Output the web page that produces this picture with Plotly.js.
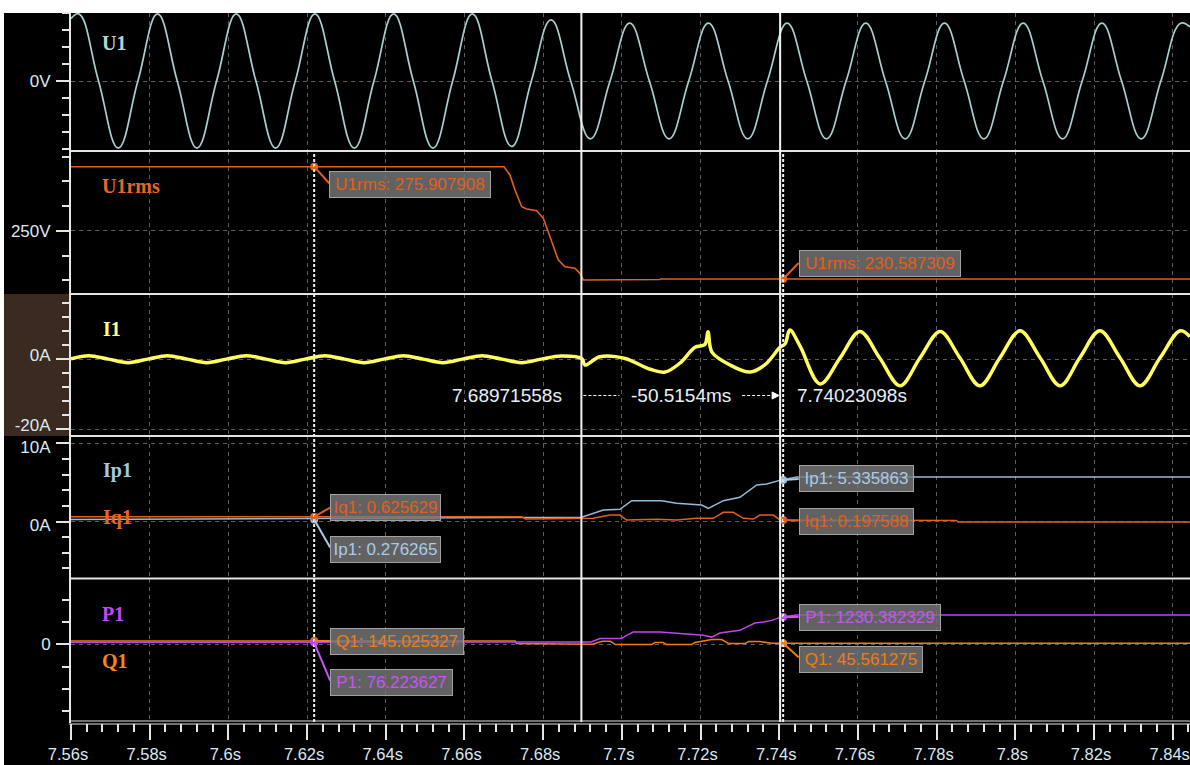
<!DOCTYPE html>
<html><head><meta charset="utf-8">
<script src="https://cdn.plot.ly/plotly-3.0.1.min.js"></script>
<style>html,body{margin:0;padding:0;background:#000;overflow:hidden}#chart{width:1190px;height:765px}</style>
</head><body><div id="chart"></div>
<script>
// ---------------- data ----------------
const u1Time = [7.560,7.562,7.567,7.572,7.577,7.582,7.587,7.592,7.597,7.602,7.607,7.612,7.617,7.622,7.627,7.632,7.637,7.642,7.647,7.652,7.657,7.662,7.667,7.672,7.677,7.682,7.687,7.692,7.697,7.702,7.707,7.712,7.717,7.722,7.727,7.732,7.737,7.742,7.747,7.752,7.757,7.762,7.767,7.772,7.777,7.782,7.787,7.792,7.797,7.802,7.807,7.812,7.817,7.822,7.827,7.832,7.837,7.842,7.8444];
const u1Volt = [367,395,0,-395,0,395,0,-395,0,395,0,-395,0,395,0,-395,0,395,0,-395,0,395,0,-385,0,360,0,-340,0,340,0,-340,0,340,0,-340,0,340,0,-340,0,340,0,-340,0,340,0,-340,0,340,0,-340,0,340,0,-340,0,340,318];

const u1rmsTime = [7.560,7.67005,7.67157,7.67284,7.67455,7.67582,7.67836,7.68004,7.68174,7.68385,7.68555,7.68809,7.68936,7.69020,7.7097,7.7098,7.8444];
const u1rmsVolt = [275.91,275.91,272.56,266.5,259.77,258.84,258.15,255.09,247.66,238.26,235.55,234.91,232.89,230.2,230.4,230.59,230.59];

const i1Time = [7.560,7.5645,7.5695,7.5745,7.5795,7.5845,7.5895,7.5945,7.5995,7.6045,7.6095,7.6145,7.6195,7.6245,7.6295,7.6345,7.6395,7.6445,7.6495,7.6545,7.6595,7.6645,7.6695,7.6745,7.6795,7.6845,7.6899,7.6906,7.6944,7.7008,7.7072,7.7110,7.7148,7.7186,7.7211,7.7219,7.7229,7.7274,7.7326,7.7364,7.7402,7.7415,7.7427,7.7453,7.7504,7.7555,7.7605,7.7655,7.7707,7.7758,7.7809,7.7859,7.7910,7.7961,7.8012,7.8063,7.8114,7.8164,7.8215,7.8266,7.8317,7.8368,7.8419,7.8444];
const i1Amp = [0.2,1.1,0.1,-0.9,0.1,1.1,0.1,-0.9,0.1,1.1,0.1,-0.9,0.1,1.1,0.1,-0.9,0.1,1.1,0.1,-0.9,0.1,1.1,0.1,-0.9,0.1,1.0,0.2,-1.6,0.8,0.3,-2.8,-3.6,-1.0,3.5,4.3,7.9,2.1,-1.5,-3.6,-1.5,3.5,4.5,8.4,3.8,-7.0,0.5,8.0,0.5,-7.5,0.5,8.0,0.5,-7.5,0.5,8.2,0.5,-7.5,0.5,8.2,0.5,-7.5,0.5,8.2,6.5];

const ip1Time = [7.560,7.6898,7.6953,7.6995,7.7025,7.7101,7.7139,7.7203,7.7220,7.7258,7.7300,7.7343,7.7368,7.7406,7.7445,7.8444];
const ip1Amp = [0.276,0.54,1.47,1.56,2.67,2.67,2.33,2.12,1.69,2.67,3.10,4.68,4.81,5.336,5.72,5.72];

const iq1Time = [7.560,7.6745,7.6755,7.6898,7.6927,7.6970,7.6995,7.7012,7.7088,7.7139,7.7190,7.7232,7.7258,7.7283,7.7309,7.7334,7.7351,7.7385,7.7402,7.7850,7.7855,7.8444];
const iq1Amp = [0.626,0.626,0.33,0.33,0.41,0.83,0.83,0.19,0.28,0.19,0.41,0.41,1.18,1.18,0.41,0.32,0.83,0.83,0.2,0.13,-0.06,-0.06];

const p1Time = [7.560,7.6897,7.6922,7.6944,7.6999,7.7012,7.7029,7.7097,7.7122,7.7207,7.7228,7.7249,7.7300,7.7313,7.7338,7.7360,7.7381,7.7406,7.7445,7.8444];
const p1Watt = [76,76,103,255,255,403,551,551,523,403,322,506,627,747,953,998,1074,1230,1310,1310];

const q1Time = [7.560,7.6729,7.6732,7.6897,7.6925,7.6950,7.6971,7.6984,7.7076,7.7084,7.7105,7.7114,7.7177,7.7186,7.7228,7.7254,7.7271,7.7313,7.7322,7.7351,7.7381,7.8444];
const q1Watt = [145,145,31,31,0,134,134,-13,-13,76,76,-13,-13,80,210,210,31,31,121,121,45,45];

// cursors and readouts
const cursorTimes = [7.68971558, 7.74023098];
const cursorLabels = ['7.68971558s', '-50.5154ms', '7.74023098s'];
const markerTimes = [7.6218, 7.7410];
const u1rmsReadout = [275.907908, 230.587309];
const ip1Readout = [0.276265, 5.335863];
const iq1Readout = [0.625629, 0.197588];
const p1Readout = [76.223627, 1230.382329];
const q1Readout = [145.025327, 45.561275];

const yTickVals = {y1:[0], y2:[250], y3:[0,-20], y4:[10,0], y5:[0]};
const yTickText = {y1:['0V'], y2:['250V'], y3:['0A','-20A'], y4:['10A','0A'], y5:['0']};

// ---------------- layout helpers ----------------
const W = 1190, H = 765, L = 71, T = 13, B = 42, R = 0;
const plotW = W - L - R, plotH = H - T - B;
const pxX = x => (x - L) / plotW;
const pxY = y => (H - B - y) / plotH;

const C = {
  u1: '#a9cfd0', urms: '#e0601c', i1: '#ffff5e', ip: '#93bad8', iq: '#e35f1a',
  p: '#bf45f0', q: '#ef7d10', axis: '#e4e4e4', grid: '#5c5c5c', tick: '#dce8f2'
};
const tickFont = {family: 'Liberation Sans, Arial, sans-serif', size: 17, color: C.tick};

function yax(topPx, botPx, range, key, minorStep, shift) {
  return {
    domain: [pxY(botPx), pxY(topPx)], range: range, anchor: 'x',
    tickmode: 'array', tickvals: yTickVals[key], ticktext: yTickText[key],
    ticks: 'outside', ticklen: 13, tickwidth: 2, tickcolor: C.axis,
    showline: true, linecolor: C.axis, linewidth: 2,
    showgrid: true, gridcolor: C.grid, griddash: '4px,4px', gridwidth: 1,
    zeroline: false, tickfont: tickFont, ticklabelstandoff: 2, ticklabelshift: shift || 0,
    minor: {tickmode: 'linear', tick0: 0, dtick: minorStep, ticks: 'outside', ticklen: 7, tickwidth: 2, tickcolor: C.axis, showgrid: false},
    fixedrange: true
  };
}

const traces = [
  {x: u1Time, y: u1Volt, yaxis: 'y', line: {color: C.u1, width: 1.7, shape: 'spline', smoothing: 1.2}},
  {x: u1rmsTime, y: u1rmsVolt, yaxis: 'y2', line: {color: C.urms, width: 1.6}},
  {x: i1Time, y: i1Amp, yaxis: 'y3', line: {color: C.i1, width: 3.5, shape: 'spline', smoothing: 1}},
  {x: ip1Time, y: ip1Amp, yaxis: 'y4', line: {color: C.ip, width: 1.5}},
  {x: iq1Time, y: iq1Amp, yaxis: 'y4', line: {color: C.iq, width: 1.5}},
  {x: q1Time, y: q1Watt, yaxis: 'y5', line: {color: C.q, width: 1.5}},
  {x: p1Time, y: p1Watt, yaxis: 'y5', line: {color: C.p, width: 1.5}}
].map(t => Object.assign({type: 'scatter', mode: 'lines', xaxis: 'x', hoverinfo: 'skip'}, t));

const mk = (vals, ax, col) => ({type: 'scatter', mode: 'markers', x: markerTimes, y: vals, xaxis: 'x', yaxis: ax,
  marker: {color: col, size: 8}, hoverinfo: 'skip'});
traces.push(mk(u1rmsReadout, 'y2', C.urms), mk(ip1Readout, 'y4', C.ip), mk(iq1Readout, 'y4', C.iq),
  mk(q1Readout, 'y5', C.q), mk(p1Readout, 'y5', C.p));

const arrowY = -10.29;

const shapes = [];
// white frame strips of the original screenshot
shapes.push({type: 'rect', xref: 'paper', yref: 'paper', x0: pxX(0), x1: 1, y0: 1, y1: pxY(0), fillcolor: '#ffffff', line: {width: 0}, layer: 'below'});
shapes.push({type: 'rect', xref: 'paper', yref: 'paper', x0: pxX(0), x1: pxX(4), y0: pxY(H), y1: pxY(0), fillcolor: '#ffffff', line: {width: 0}, layer: 'below'});
// brown label background of I1 panel
shapes.push({type: 'rect', xref: 'paper', yref: 'paper', x0: pxX(4), x1: pxX(70), y0: pxY(436), y1: pxY(294), fillcolor: '#3a2a1f', line: {width: 0}, layer: 'below'});
// panel separators
[151, 294, 436, 578.5].forEach(y => shapes.push({type: 'line', xref: 'paper', yref: 'paper', x0: pxX(69), x1: 1, y0: pxY(y), y1: pxY(y), line: {color: C.axis, width: 2}}));
[721, 724].forEach(y => shapes.push({type: 'line', xref: 'paper', yref: 'paper', x0: pxX(69), x1: 1, y0: pxY(y), y1: pxY(y), line: {color: C.axis, width: 1.2}}));
// measurement cursors (solid)
cursorTimes.forEach(t => shapes.push({type: 'line', xref: 'x', yref: 'paper', x0: t, x1: t, y0: pxY(722), y1: 1, line: {color: '#f2f2f2', width: 2}}));
// marker cursors (dashed)
markerTimes.forEach(t => shapes.push({type: 'line', xref: 'x', yref: 'paper', x0: t, x1: t, y0: pxY(722), y1: pxY(152), line: {color: '#f2f2f2', width: 2, dash: '3px,2px'}}));
// dashed delta arrow
shapes.push({type: 'line', xref: 'x', yref: 'y3', xsizemode: 'pixel', xanchor: cursorTimes[0], x0: 2, x1: 38, y0: arrowY, y1: arrowY, line: {color: '#ffffff', width: 1.2, dash: '3px,2px'}});
shapes.push({type: 'line', xref: 'x', yref: 'y3', xsizemode: 'pixel', xanchor: cursorTimes[1], x0: -38, x1: -6, y0: arrowY, y1: arrowY, line: {color: '#ffffff', width: 1.2, dash: '3px,2px'}});
shapes.push({type: 'path', xref: 'x', yref: 'y3', xsizemode: 'pixel', ysizemode: 'pixel', xanchor: cursorTimes[1], yanchor: arrowY,
  path: 'M -8 3.5 L -1 0 L -8 -3.5 Z', fillcolor: '#ffffff', line: {color: '#ffffff', width: 1}});

// readout boxes: [time idx, value, axis, text, color, dx, dy(box centre, px down), width, leader dy]
const boxes = [
  [0, u1rmsReadout[0], 'y2', 'U1rms: 275.907908', C.urms, 15, 18, 156, 16.6],
  [1, u1rmsReadout[1], 'y2', 'U1rms: 230.587309', C.urms, 15.5, -15.3, 156, -16],
  [0, iq1Readout[0], 'y4', 'Iq1: 0.625629', C.iq, 16, -9, 105, -9],
  [0, ip1Readout[0], 'y4', 'Ip1: 0.276265', '#a9cbe6', 16, 30.5, 105, 28],
  [1, ip1Readout[1], 'y4', 'Ip1: 5.335863', '#a9cbe6', 15.5, -1, 109, -1],
  [1, iq1Readout[1], 'y4', 'Iq1: 0.197588', C.iq, 15.5, 1.5, 109, 0.5],
  [0, q1Readout[0], 'y5', 'Q1: 145.025327', C.q, 16, 0, 128, 0],
  [0, p1Readout[0], 'y5', 'P1: 76.223627', '#c655f2', 16, 40, 117, 38],
  [1, p1Readout[1], 'y5', 'P1: 1230.382329', '#c655f2', 15.5, 1, 136, 0],
  [1, q1Readout[1], 'y5', 'Q1: 45.561275', C.q, 15.5, 16, 118, 14]
];
const annotations = [];
boxes.forEach(b => {
  const t = markerTimes[b[0]];
  shapes.push({type: 'line', xref: 'x', yref: b[2], xsizemode: 'pixel', ysizemode: 'pixel', xanchor: t, yanchor: b[1],
    x0: 0, x1: b[5], y0: 0, y1: -b[8], line: {color: b[4], width: 2}});
  annotations.push({x: t, y: b[1], xref: 'x', yref: b[2], xanchor: 'left', yanchor: 'middle', xshift: b[5], yshift: -b[6],
    showarrow: false, text: b[3], width: b[7], height: 21, borderpad: 2, borderwidth: 1,
    bgcolor: 'rgba(120,120,120,0.82)', bordercolor: '#a2a2a2',
    font: {family: 'Liberation Sans, Arial, sans-serif', size: 17, color: b[4]}});
});
// delta-time labels
const dFont = {family: 'Liberation Sans, Arial, sans-serif', size: 19, color: '#e8f0f8'};
annotations.push({x: cursorTimes[0], y: arrowY, xref: 'x', yref: 'y3', xanchor: 'right', yanchor: 'middle', xshift: -17, showarrow: false, text: cursorLabels[0], font: dFont});
annotations.push({x: (cursorTimes[0] + cursorTimes[1]) / 2, y: arrowY, xref: 'x', yref: 'y3', xanchor: 'center', yanchor: 'middle', showarrow: false, text: cursorLabels[1], font: dFont});
annotations.push({x: cursorTimes[1], y: arrowY, xref: 'x', yref: 'y3', xanchor: 'left', yanchor: 'middle', xshift: 15, showarrow: false, text: cursorLabels[2], font: dFont});

// channel names
const nameFont = (col) => ({family: 'Liberation Serif, Times New Roman, serif', size: 20, color: col});
[['U1', 100, 43, '#b6d6d6'], ['U1rms', 100, 186, '#e6652a'], ['I1', 101, 329, '#ffff8c'],
 ['Ip1', 101, 470, '#a3c8e2'], ['Iq1', 101, 517, '#e6652a'], ['P1', 100, 614, '#c746f3'], ['Q1', 100, 661, '#f5861a']]
 .forEach(n => annotations.push({xref: 'paper', yref: 'paper', x: pxX(n[1]), y: pxY(n[2]), xanchor: 'left', yanchor: 'middle',
   showarrow: false, text: '<b>' + n[0] + '</b>', font: nameFont(n[3])}));

const layout = {
  width: W, height: H, margin: {l: L, r: R, t: T, b: B}, showlegend: false,
  paper_bgcolor: '#000000', plot_bgcolor: '#000000',
  xaxis: {domain: [0, 1], range: [7.56, 7.8444], anchor: 'y5', tickmode: 'linear', tick0: 7.56, dtick: 0.02,
    ticksuffix: 's', ticks: 'outside', ticklen: 16, tickwidth: 2, tickcolor: C.axis, showline: false,
    showgrid: true, gridcolor: C.grid, griddash: '4px,4px', gridwidth: 1, zeroline: false,
    tickfont: {family: 'Liberation Sans, Arial, sans-serif', size: 16.5, color: C.tick},
    ticklabeloverflow: 'allow', ticklabelshift: -3,
    minor: {tick0: 7.56, dtick: 0.004, ticks: 'outside', ticklen: 8, tickwidth: 2, tickcolor: C.axis, showgrid: false},
    fixedrange: true},
  yaxis: yax(13, 151, [-411.8, 400], 'y1', 100),
  yaxis2: yax(151, 294, [224.54, 282.24], 'y2', 10),
  yaxis3: yax(294, 436, [-21.86, 18.71], 'y3', 4, -4),
  yaxis4: yax(436, 578.5, [-7.3, 10.96], 'y4', 2, 4),
  yaxis5: yax(578.5, 723, [-3536, 2954], 'y5', 1000),
  shapes: shapes, annotations: annotations
};

Plotly.newPlot('chart', traces, layout, {staticPlot: true, displayModeBar: false});
</script>
</body></html>
